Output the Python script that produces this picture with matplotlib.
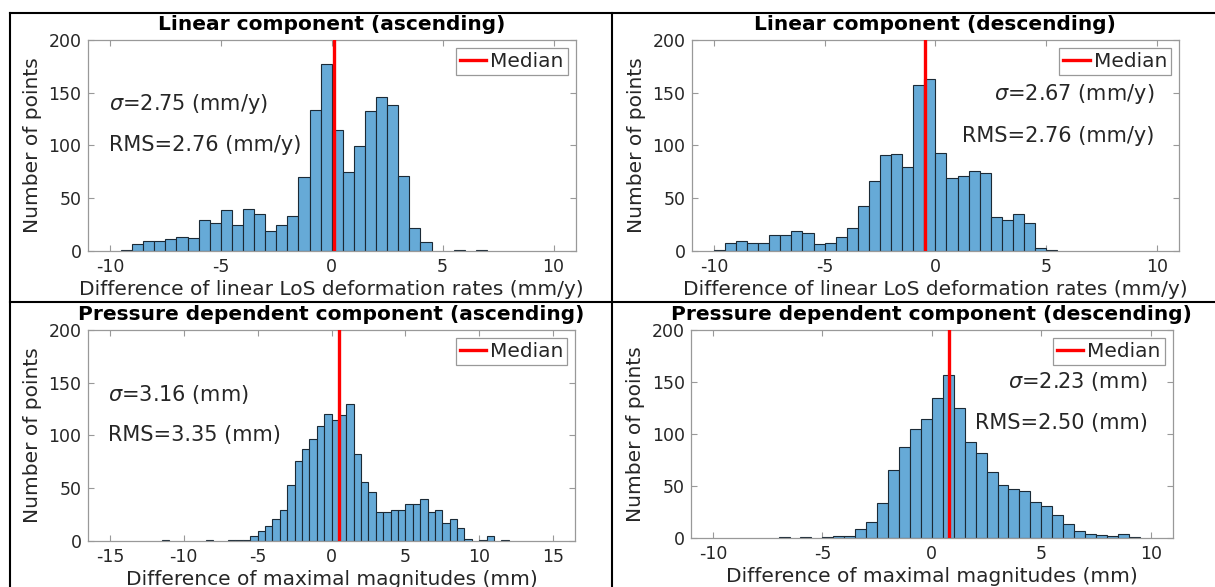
import numpy as np
import matplotlib
matplotlib.use("Agg")
import matplotlib.pyplot as plt
from matplotlib.lines import Line2D

plt.rcParams["font.family"] = ["DejaVu Sans"]
plt.rcParams["axes.unicode_minus"] = False

BIN_W = 0.5

# first bin left edge + counts per 0.5-wide bin
asc_lin_start = -9.5
asc_lin_counts = [1, 6, 9, 9, 11, 13, 12, 29, 26, 39, 24, 40, 35, 19, 24, 33, 70,
                  134, 177, 115, 75, 99, 133, 146, 138, 71, 22, 8, 0, 0, 1, 0, 1]

desc_lin_start = -10.0
desc_lin_counts = [1, 7, 9, 7, 7, 15, 15, 19, 17, 6, 7, 13, 22, 42, 66, 91, 92, 79,
                   157, 163, 93, 69, 71, 76, 74, 32, 29, 35, 26, 3, 1]

asc_prs_start = -11.5
asc_prs_counts = [1, 0, 0, 0, 0, 0, 1, 0, 0, 1, 1, 1, 4, 9, 14, 21, 29, 53, 76, 87,
                  97, 109, 120, 115, 119, 130, 82, 56, 46, 27, 27, 29, 29, 35, 35,
                  40, 27, 29, 17, 21, 12, 2, 0, 1, 4, 0, 1]

desc_prs_start = -7.0
desc_prs_counts = [1, 0, 1, 0, 1, 2, 2, 8, 15, 33, 65, 87, 105, 114, 135, 157, 125,
                   92, 82, 63, 51, 47, 45, 34, 31, 22, 13, 6, 4, 3, 2, 4, 1]

medians = [0.12, -0.48, 0.52, 0.8]
titles = ["Linear component (ascending)", "Linear component (descending)",
          "Pressure dependent component (ascending)",
          "Pressure dependent component (descending)"]
xlabels = ["Difference of linear LoS deformation rates (mm/y)"] * 2 + \
          ["Difference of maximal magnitudes (mm)"] * 2
sigma_txt = [r"$\sigma$=2.75 (mm/y)", r"$\sigma$=2.67 (mm/y)",
             r"$\sigma$=3.16 (mm)", r"$\sigma$=2.23 (mm)"]
rms_txt = ["RMS=2.76 (mm/y)", "RMS=2.76 (mm/y)", "RMS=3.35 (mm)", "RMS=2.50 (mm)"]

BAR_COLOR = "#66aad7"
AX_GRAY = "0.6"
TXT = "0.15"

fig = plt.figure(figsize=(12.15, 5.87), dpi=100)
W, H = 1215, 587


def axes_px(left, right, top, bottom):
    return fig.add_axes([left / W, 1 - bottom / H, (right - left) / W, (bottom - top) / H])


axs = [axes_px(87.7, 575.7, 40, 250.7),
       axes_px(691.7, 1179, 40, 250.7),
       axes_px(87.7, 575.3, 330, 540.7),
       axes_px(691, 1172.7, 330, 537.7)]

data = [(asc_lin_start, asc_lin_counts), (desc_lin_start, desc_lin_counts),
        (asc_prs_start, asc_prs_counts), (desc_prs_start, desc_prs_counts)]
xlims = [(-11, 11), (-11, 11), (-16.5, 16.5), (-11, 11)]
xticks = [[-10, -5, 0, 5, 10], [-10, -5, 0, 5, 10],
          [-15, -10, -5, 0, 5, 10, 15], [-10, -5, 0, 5, 10]]
# text anchor (x, y_sigma, y_rms, ha)
txt_pos = [(-10.05, 139, 100, "left"), (9.9, 149, 108.7, "right"),
           (-15.15, 139, 100, "left"), (9.85, 150, 110, "right")]

for i, ax in enumerate(axs):
    start, counts = data[i]
    counts = np.asarray(counts, dtype=float)
    lefts = start + BIN_W * np.arange(len(counts))
    keep = counts > 0
    ax.bar(lefts[keep], counts[keep], width=BIN_W, align="edge", color=BAR_COLOR,
           edgecolor="#1b2a36", linewidth=0.8, zorder=2)
    med = ax.axvline(medians[i], color="red", lw=2.4, zorder=3, label="Median")

    ax.set_xlim(*xlims[i])
    ax.set_ylim(0, 200)
    ax.set_xticks(xticks[i])
    ax.set_yticks([0, 50, 100, 150, 200])
    ax.tick_params(direction="in", top=True, right=True, length=4, width=0.8,
                   color=AX_GRAY, labelcolor=TXT, labelsize=12.5)
    ax.tick_params(axis="x", pad=5)
    ax.tick_params(axis="y", pad=4.5)
    for s in ax.spines.values():
        s.set_color(AX_GRAY)
        s.set_linewidth(0.9)

    ax.set_title(titles[i], fontsize=14.5, fontweight="bold", pad=7.5)
    ax.set_xlabel(xlabels[i], fontsize=14.5, color=TXT, labelpad=3)
    ax.set_ylabel("Number of points", fontsize=14.5, color=TXT, labelpad=5)

    tx, ys, yr, ha = txt_pos[i]
    ax.text(tx, ys, sigma_txt[i], ha=ha, va="center", fontsize=15, color=TXT)
    ax.text(tx, yr, rms_txt[i], ha=ha, va="center", fontsize=15, color=TXT)

    leg = ax.legend(handles=[med], loc="upper right", fontsize=14.5, fancybox=False,
                    framealpha=1, edgecolor=AX_GRAY, handlelength=1.3,
                    handletextpad=0.2, borderpad=0.2, borderaxespad=0.4)
    leg.get_frame().set_linewidth(0.9)
    for t in leg.get_texts():
        t.set_color(TXT)

# table grid lines around the panels
lw = 1.5
def fline(x0, y0, x1, y1):
    fig.add_artist(Line2D([x0 / W, x1 / W], [1 - y0 / H, 1 - y1 / H],
                          transform=fig.transFigure, color="black", lw=lw))

fline(10, 13, 1215, 13)
fline(10, 302, 1215, 302)
fline(10, 13, 10, 587)
fline(612, 13, 612, 587)

fig.savefig("out.png", dpi=100)
